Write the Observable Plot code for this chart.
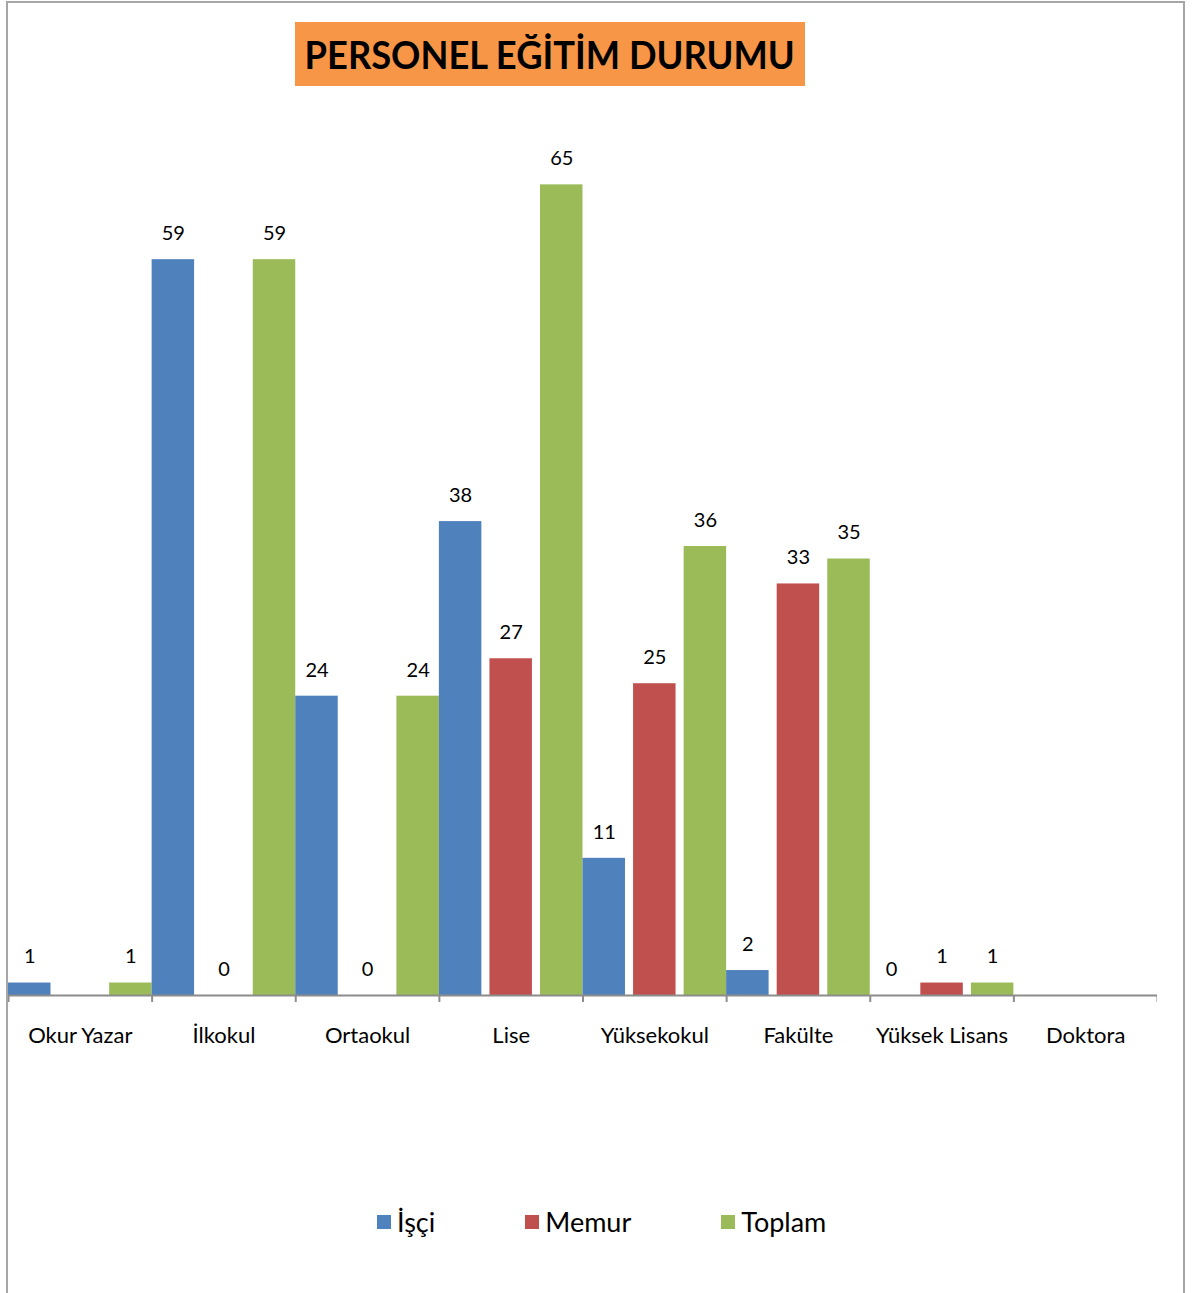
<!DOCTYPE html>
<html>
<head>
<meta charset="utf-8">
<script src="https://cdn.jsdelivr.net/npm/d3@7"></script>
<script src="https://cdn.jsdelivr.net/npm/@observablehq/plot@0.6"></script>
<style>
  html, body { margin: 0; padding: 0; background: #fff; }
  body { width: 1192px; height: 1293px; position: relative; overflow: hidden; font-family: Lato, "Open Sans", sans-serif; }
  #frame { position: absolute; left: 6px; top: 1px; width: 1175px; height: 1320px; border: 2px solid #a6a6a6; border-bottom: none; }
  #title { position: absolute; left: 295px; top: 22px; width: 510px; height: 64px; background: #F79646; display: flex; align-items: center; justify-content: center; }
  #title span { font-weight: 700; font-size: 38px; color: #000; white-space: nowrap; display: inline-block; transform: scaleX(0.955); }
  #chart { position: absolute; left: 8px; top: 0px; }
  #legend { position: absolute; left: 377px; top: 1205px; display: flex; gap: 90px; font-size: 27px; color: #000; }
  #legend .item { display: flex; align-items: center; gap: 6px; }
  #legend .sw { width: 14px; height: 14px; display: inline-block; }
</style>
</head>
<body>
<div id="frame"></div>
<div id="title"><span>PERSONEL EĞİTİM DURUMU</span></div>
<div id="chart"></div>
<div id="legend"></div>
<script>
// ---- data ----
const categories = ["Okur Yazar", "İlkokul", "Ortaokul", "Lise", "Yüksekokul", "Fakülte", "Yüksek Lisans", "Doktora"];
const seriesNames = ["İşçi", "Memur", "Toplam"];
const isci   = [1, 59, 24, 38, 11, 2, 0, null];
const memur  = [null, 0, 0, 27, 25, 33, 1, null];
const toplam = [1, 59, 24, 65, 36, 35, 1, null];
const colors = ["#4F81BD", "#C0504D", "#9BBB59"];

const seriesValues = [isci, memur, toplam];
const rows = [];
categories.forEach((cat, i) => {
  seriesNames.forEach((s, j) => {
    const v = seriesValues[j][i];
    if (v !== null && v !== undefined) rows.push({cat, s, v});
  });
});

// ---- layout ----
const W = 1149, H = 1055, mT = 122, mB = 60;
const padIn = 0.16;
const facetW = W / categories.length;
const step = facetW / (seriesNames.length - padIn);
const bw = step * (1 - padIn);
const axisColor = "#8c8c8c";

const leftTicks = categories.map(c => ({cat: c, s: seriesNames[0]}));
const rightTick = [{cat: categories[categories.length - 1], s: seriesNames[seriesNames.length - 1]}];

const chart = Plot.plot({
  width: W,
  height: H,
  marginLeft: 0,
  marginRight: 0,
  marginTop: mT,
  marginBottom: mB,
  style: {fontFamily: "Lato, 'Open Sans', sans-serif", fontSize: "22px", color: "#000", background: "transparent"},
  fx: {domain: categories, padding: 0, round: false, label: null, tickSize: 0, tickPadding: 32},
  x: {domain: seriesNames, paddingInner: padIn, paddingOuter: 0, round: false, axis: null},
  y: {domain: [0, 70], axis: null},
  color: {domain: seriesNames, range: colors},
  marks: [
    Plot.barY(rows, {fx: "cat", x: "s", y: "v", fill: "s"}),
    Plot.ruleY([0], {stroke: axisColor, strokeWidth: 2}),
    Plot.ruleX(leftTicks, {fx: "cat", x: "s", y1: 0, y2: 0, insetBottom: -7, dx: -bw / 2, stroke: axisColor, strokeWidth: 2}),
    Plot.ruleX(rightTick, {fx: "cat", x: "s", y1: 0, y2: 0, insetBottom: -7, dx: bw / 2, stroke: axisColor, strokeWidth: 2}),
    Plot.text(rows, {fx: "cat", x: "s", y: "v", text: d => String(d.v), dy: -26, fontSize: 20, fill: "#000"})
  ]
});
document.getElementById("chart").appendChild(chart);

// ---- legend ----
const legend = document.getElementById("legend");
seriesNames.forEach((s, j) => {
  const item = document.createElement("div");
  item.className = "item";
  const sw = document.createElement("span");
  sw.className = "sw";
  sw.style.background = colors[j];
  const t = document.createElement("span");
  t.textContent = s;
  item.appendChild(sw);
  item.appendChild(t);
  legend.appendChild(item);
});
</script>
</body>
</html>
